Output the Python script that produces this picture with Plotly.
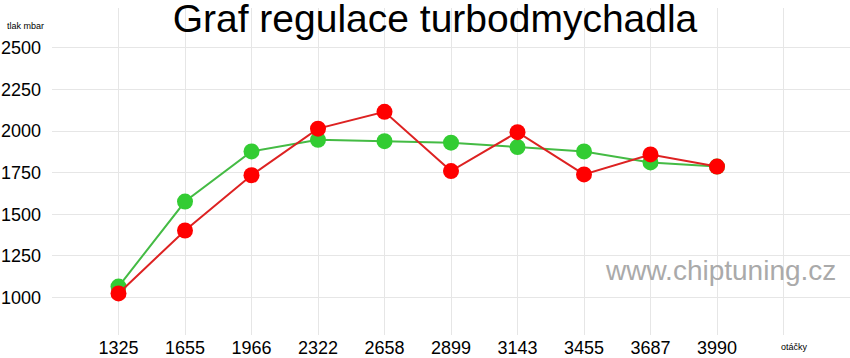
import plotly.graph_objects as go

categories = ["1325", "1655", "1966", "2322", "2658", "2899", "3143", "3455", "3687", "3990"]
green_vals = [1066, 1577, 1878, 1948, 1940, 1931, 1904, 1878, 1812, 1787]
red_vals = [1025, 1403, 1735, 2015, 2116, 1760, 1994, 1740, 1860, 1787]
y_ticks = [1000, 1250, 1500, 1750, 2000, 2250, 2500]

xs = list(range(len(categories)))

fig = go.Figure()
fig.add_trace(go.Scatter(x=xs, y=green_vals, mode="lines+markers",
                         line=dict(color="#44bb44", width=2),
                         marker=dict(color="#33cc33", size=16), showlegend=False))
fig.add_trace(go.Scatter(x=xs, y=red_vals, mode="lines+markers",
                         line=dict(color="#dd2222", width=2),
                         marker=dict(color="#ff0000", size=16), showlegend=False))

PL, PT, PW, PH = 52, 8, 798, 327

fig.update_layout(
    width=850, height=358,
    margin=dict(l=PL, r=0, t=PT, b=358 - PT - PH, autoexpand=False),
    paper_bgcolor="white", plot_bgcolor="white",
    font=dict(family="Liberation Sans, Arial, sans-serif", color="black"),
    title=dict(text="Graf regulace turbodmychadla", x=435 / 850, xanchor="center",
               y=1 - 18 / 358, yref="container", yanchor="middle",
               font=dict(size=39, color="black")),
    xaxis=dict(range=[-1, 11], tickmode="array", tickvals=xs + [10],
               ticktext=categories + [""], showgrid=True, gridcolor="#e6e6e6",
               zeroline=False, showline=False, ticks="", tickfont=dict(size=18),
               automargin=False, ticklabelstandoff=0),
    yaxis=dict(range=[775, 2740], tickmode="array", tickvals=y_ticks,
               ticktext=[str(v) for v in y_ticks], showgrid=True, gridcolor="#e6e6e6",
               zeroline=False, showline=False, ticks="", tickfont=dict(size=18),
               automargin=False, ticklabelstandoff=10),
    annotations=[
        dict(text="tlak mbar", xref="paper", yref="paper", x=(5 - PL) / PW, y=1 - (26 - PT) / PH,
             xanchor="left", yanchor="middle", showarrow=False, font=dict(size=9)),
        dict(text="otáčky", xref="paper", yref="paper", x=(794 - PL) / PW, y=-(347 - PT - PH) / PH,
             xanchor="center", yanchor="middle", showarrow=False, font=dict(size=9)),
        dict(text="www.chiptuning.cz", xref="paper", yref="paper",
             x=(720 - PL) / PW, y=1 - (270 - PT) / PH, xanchor="center", yanchor="middle",
             showarrow=False, font=dict(size=28, color="#aaaaaa")),
    ],
)

fig.write_html("out.html", config={"displayModeBar": False},
               post_script="document.body.style.margin='0';")
